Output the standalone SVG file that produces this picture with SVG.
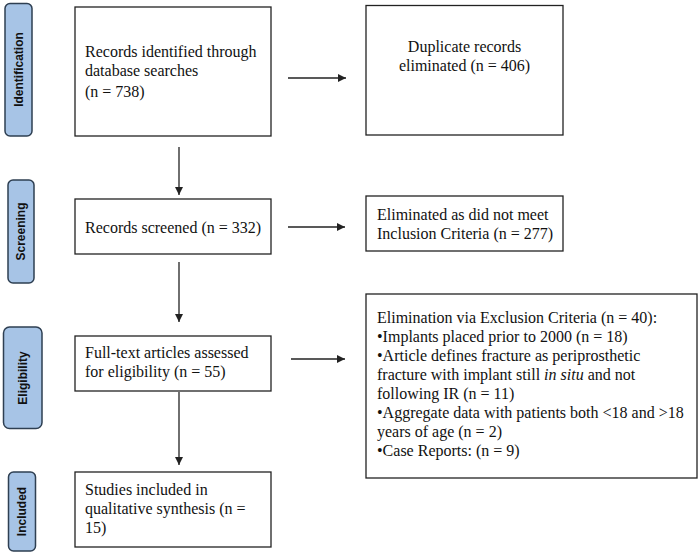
<svg xmlns="http://www.w3.org/2000/svg" width="700" height="555" viewBox="0 0 700 555">
<defs>
<style>
.box{fill:#fff;stroke:#222;stroke-width:1.3}
.pill{fill:#a7c4e6;stroke:#2e3f52;stroke-width:1.5}
.t{font-family:"Liberation Serif","Times New Roman",serif;font-size:16px;fill:#111}
.pl{font-family:"Liberation Sans",Arial,sans-serif;font-size:12px;font-weight:bold;fill:#111;text-anchor:middle}
.c{stroke:#222;stroke-width:1.3;fill:none;marker-end:url(#ah)}
</style>
<marker id="ah" viewBox="0 0 10 10" refX="10" refY="5" markerWidth="8" markerHeight="8" markerUnits="userSpaceOnUse" orient="auto">
<path d="M0,0 L10,5 L0,10 z" fill="#222"/>
</marker>
</defs>
<rect width="700" height="555" fill="#fff"/>

<g id="pill-identification">
<rect class="pill" x="5" y="3.5" width="27" height="132.5" rx="5"/>
<text class="pl" transform="translate(22.5,69.5) rotate(-90)">Identification</text>
</g>
<g id="pill-screening">
<rect class="pill" x="8" y="180" width="26" height="103" rx="5"/>
<text class="pl" transform="translate(25,231.5) rotate(-90)">Screening</text>
</g>
<g id="pill-eligibility">
<rect class="pill" x="3.5" y="327" width="38.5" height="101.5" rx="6"/>
<text class="pl" transform="translate(27,378) rotate(-90)">Eligibility</text>
</g>
<g id="pill-included">
<rect class="pill" x="8.5" y="472" width="27" height="79" rx="5"/>
<text class="pl" transform="translate(26,511.5) rotate(-90)">Included</text>
</g>

<g id="identified">
<rect class="box" x="75" y="7" width="196" height="129"/>
<text class="t" x="85" y="57">Records identified through</text>
<text class="t" x="85" y="76">database searches</text>
<text class="t" x="85" y="97">(n = 738)</text>
</g>
<g id="duplicates">
<rect class="box" x="366" y="5.5" width="197" height="129.5"/>
<text class="t" x="464.5" y="52" text-anchor="middle">Duplicate records</text>
<text class="t" x="464.5" y="71" text-anchor="middle">eliminated (n = 406)</text>
</g>
<g id="screened">
<rect class="box" x="75" y="199" width="196" height="55"/>
<text class="t" x="85" y="233">Records screened (n = 332)</text>
</g>
<g id="inclusion">
<rect class="box" x="366" y="196" width="197" height="55"/>
<text class="t" x="377" y="220">Eliminated as did not meet</text>
<text class="t" x="377" y="239">Inclusion Criteria (n = 277)</text>
</g>
<g id="fulltext">
<rect class="box" x="75" y="336" width="196" height="55"/>
<text class="t" x="85" y="358">Full-text articles assessed</text>
<text class="t" x="85" y="377">for eligibility (n = 55)</text>
</g>
<g id="exclusion">
<rect class="box" x="366" y="294" width="331" height="184"/>
<text class="t" x="377" y="323">Elimination via Exclusion Criteria (n = 40):</text>
<text class="t" x="377" y="342">•Implants placed prior to 2000 (n = 18)</text>
<text class="t" x="377" y="361">•Article defines fracture as periprosthetic</text>
<text class="t" x="377" y="380">fracture with implant still <tspan font-style="italic">in situ</tspan> and not</text>
<text class="t" x="377" y="399">following IR (n = 11)</text>
<text class="t" x="377" y="418">•Aggregate data with patients both &lt;18 and &gt;18</text>
<text class="t" x="377" y="437">years of age (n = 2)</text>
<text class="t" x="377" y="456">•Case Reports: (n = 9)</text>
</g>
<g id="included">
<rect class="box" x="75" y="472" width="196" height="75"/>
<text class="t" x="85" y="495">Studies included in</text>
<text class="t" x="85" y="514">qualitative synthesis (n =</text>
<text class="t" x="85" y="533">15)</text>
</g>

<g id="connectors">
<line class="c" x1="179" y1="147" x2="179" y2="195"/>
<line class="c" x1="288" y1="78" x2="346" y2="78"/>
<line class="c" x1="288" y1="227" x2="345" y2="227"/>
<line class="c" x1="179" y1="262" x2="179" y2="322"/>
<line class="c" x1="291" y1="359" x2="345" y2="359"/>
<line class="c" x1="179" y1="392" x2="179" y2="465"/>
</g>
</svg>
